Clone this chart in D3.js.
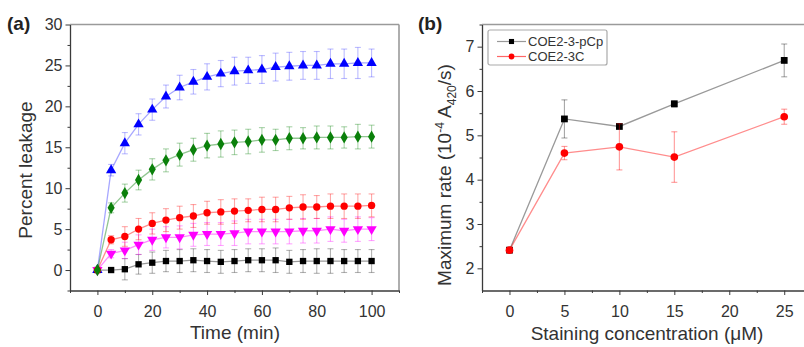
<!DOCTYPE html>
<html>
<head>
<meta charset="utf-8">
<script src="https://cdn.jsdelivr.net/npm/d3@7"></script>
<style>
  html, body { margin: 0; padding: 0; background: #fff; }
  svg { display: block; font-family: "Liberation Sans", Arial, sans-serif; }
</style>
</head>
<body>
<svg id="chart" width="804" height="347"></svg>
<script>
// ---- Panel (a): dye leakage over time ----
const timeMin = [0, 5, 10, 15, 20, 25, 30, 35, 40, 45, 50, 55, 60, 65, 70, 75, 80, 85, 90, 95, 100];

const leakBlue    = [0, 12.2, 15.5, 17.8, 19.6, 21.2, 22.3, 23.0, 23.6, 24.0, 24.3, 24.4, 24.5, 24.8, 24.9, 25.0, 25.0, 25.2, 25.2, 25.3, 25.3];
const leakBlueErr = [0, 0.7, 1.3, 1.3, 1.3, 1.4, 1.5, 1.5, 1.6, 1.6, 1.7, 1.6, 1.7, 1.7, 1.7, 1.7, 1.7, 1.8, 1.8, 1.9, 1.7];

const leakGreen    = [0, 7.6, 9.4, 11.0, 12.3, 13.4, 14.1, 14.7, 15.2, 15.4, 15.6, 15.7, 15.9, 15.9, 16.1, 16.1, 16.2, 16.2, 16.2, 16.3, 16.3];
const leakGreenErr = [0, 0.6, 1.1, 1.2, 1.3, 1.4, 1.4, 1.4, 1.5, 1.6, 1.5, 1.5, 1.5, 1.3, 1.4, 1.3, 1.4, 1.4, 1.3, 1.5, 1.4];

const leakRed    = [0, 3.7, 4.1, 5.0, 5.7, 6.1, 6.4, 6.6, 7.0, 7.1, 7.2, 7.3, 7.4, 7.4, 7.6, 7.7, 7.7, 7.8, 7.8, 7.8, 7.9];
const leakRedErr = [0, 0.5, 1.2, 1.3, 1.3, 1.4, 1.4, 1.4, 1.4, 1.5, 1.5, 1.4, 1.5, 1.5, 1.4, 1.5, 1.4, 1.5, 1.5, 1.5, 1.4];

const leakMagenta    = [0, 2.0, 2.4, 3.1, 3.7, 4.0, 4.0, 4.3, 4.4, 4.4, 4.5, 4.7, 4.7, 4.7, 4.7, 4.8, 4.8, 5.0, 4.8, 5.0, 5.0];
const leakMagentaErr = [0, 0.5, 1.0, 1.2, 1.3, 1.3, 1.4, 1.4, 1.4, 1.4, 1.5, 1.5, 1.5, 1.5, 1.5, 1.5, 1.5, 1.5, 1.4, 1.5, 1.4];

const leakBlack    = [0, 0, 0.1, 0.7, 0.9, 1.1, 1.1, 1.2, 1.1, 1.0, 1.1, 1.2, 1.2, 1.2, 1.0, 1.1, 1.1, 1.1, 1.1, 1.1, 1.1];
const leakBlackErr = [0, 0.2, 1.3, 1.2, 1.3, 1.3, 1.4, 1.4, 1.4, 1.4, 1.4, 1.4, 1.4, 1.5, 1.4, 1.4, 1.5, 1.5, 1.4, 1.4, 1.4];

const ticksA_x = [0, 20, 40, 60, 80, 100];
const ticksA_y = [0, 5, 10, 15, 20, 25, 30];

// ---- Panel (b): maximum rate vs staining concentration ----
const concUM = [0, 5, 10, 15, 25];
const ratePCp    = [2.41, 5.37, 5.20, 5.71, 6.69];
const ratePCpErr = [0.02, 0.43, 0.05, 0.07, 0.37];
const rate3C     = [2.41, 4.60, 4.74, 4.51, 5.42];
const rate3CErr  = [0.02, 0.15, 0.52, 0.57, 0.17];
const legendNames = ["COE2-3-pCp", "COE2-3C"];

const ticksB_x = [0, 5, 10, 15, 20, 25];
const ticksB_y = [2, 3, 4, 5, 6, 7];

const svg = d3.select("#chart");
const axisColor = "#3a3a3a";
const frameColor = "#9a9a9a";
const textColor = "#333";

function markerPath(shape, size) {
  const sym = {
    square: d3.symbolSquare,
    circle: d3.symbolCircle,
    diamond: d3.symbolDiamond,
    triUp: d3.symbolTriangle,
    triDown: d3.symbolTriangle
  }[shape];
  return d3.symbol().type(sym).size(size)();
}

function drawFrame(g, w, h, right) {
  // light top/right border
  g.append("line").attr("x1", 0).attr("x2", w).attr("y1", 0).attr("y2", 0)
    .attr("stroke", frameColor).attr("stroke-width", 1.6);
  if (right) {
    g.append("line").attr("x1", w).attr("x2", w).attr("y1", 0).attr("y2", h)
      .attr("stroke", frameColor).attr("stroke-width", 1.6);
  }
}

function styleAxis(sel) {
  sel.select(".domain").attr("stroke", axisColor).attr("stroke-width", 1.3);
  sel.selectAll(".tick line").attr("stroke", axisColor).attr("stroke-width", 1);
  sel.selectAll(".tick text").attr("fill", textColor).style("font-size", "16px");
}

function drawPanel(cfg) {
  const g = svg.append("g").attr("transform", `translate(${cfg.left},${cfg.top})`);
  const w = cfg.right - cfg.left, h = cfg.bottom - cfg.top;
  const x = d3.scaleLinear().domain(cfg.xDomain).range([0, w]);
  const y = d3.scaleLinear().domain(cfg.yDomain).range([h, 0]);

  drawFrame(g, w, h, cfg.rightFrame);

  // minor ticks
  const gxm = g.append("g").attr("transform", `translate(0,${h})`)
    .call(d3.axisBottom(x).tickValues(cfg.xMinor).tickSize(2.5).tickFormat(""));
  gxm.select(".domain").remove();
  gxm.selectAll(".tick line").attr("stroke", axisColor);
  const gym = g.append("g")
    .call(d3.axisLeft(y).tickValues(cfg.yMinor).tickSize(2.5).tickFormat(""));
  gym.select(".domain").remove();
  gym.selectAll(".tick line").attr("stroke", axisColor);

  // major axes
  const fmt = d3.format("d");
  const gx = g.append("g").attr("transform", `translate(0,${h})`)
    .call(d3.axisBottom(x).tickValues(cfg.xTicks).tickFormat(fmt).tickSize(4.5).tickSizeOuter(0).tickPadding(7));
  styleAxis(gx);
  gx.selectAll(".tick text").attr("dy", "0.95em");
  const gy = g.append("g")
    .call(d3.axisLeft(y).tickValues(cfg.yTicks).tickFormat(fmt).tickSize(4.5).tickSizeOuter(0).tickPadding(3));
  styleAxis(gy);

  // series
  const line = d3.line().x(d => x(d[0])).y(d => y(d[1]));
  cfg.series.forEach(s => {
    const pts = cfg.xs.map((xv, i) => [xv, s.values[i], s.err[i]]);
    g.append("path").datum(pts).attr("d", line)
      .attr("fill", "none").attr("stroke", s.lineColor).attr("stroke-width", 1.3);
    const eb = g.append("g").attr("stroke", s.errColor).attr("stroke-width", 1.1);
    pts.forEach(p => {
      if (p[2] <= 0.05) return;
      const cx = x(p[0]), y1 = y(p[1] + p[2]), y2 = y(p[1] - p[2]);
      eb.append("line").attr("x1", cx).attr("x2", cx).attr("y1", y1).attr("y2", y2);
      eb.append("line").attr("x1", cx - cfg.cap).attr("x2", cx + cfg.cap).attr("y1", y1).attr("y2", y1);
      eb.append("line").attr("x1", cx - cfg.cap).attr("x2", cx + cfg.cap).attr("y1", y2).attr("y2", y2);
    });
    g.append("g").selectAll("path").data(pts).join("path")
      .attr("d", markerPath(s.shape, s.size))
      .attr("transform", d => `translate(${x(d[0])},${y(d[1])})${s.shape === "triDown" ? " rotate(180)" : ""}`)
      .attr("fill", s.color);
  });
  return { g, x, y, w, h };
}

// Panel (a)
drawPanel({
  left: 70, right: 399, top: 24.5, bottom: 290.5,
  xDomain: [-10, 110], yDomain: [-2.5, 30],
  xTicks: ticksA_x, yTicks: ticksA_y,
  xMinor: [-10, 10, 30, 50, 70, 90, 110], yMinor: [-2.5, 2.5, 7.5, 12.5, 17.5, 22.5, 27.5],
  rightFrame: true, cap: 3,
  xs: timeMin,
  series: [
    { values: leakBlue, err: leakBlueErr, color: "#0000ff", lineColor: "rgba(60,60,255,0.45)", errColor: "rgba(60,60,255,0.35)", shape: "triUp", size: 46 },
    { values: leakBlack, err: leakBlackErr, color: "#000000", lineColor: "rgba(0,0,0,0.4)", errColor: "rgba(0,0,0,0.3)", shape: "square", size: 40 },
    { values: leakMagenta, err: leakMagentaErr, color: "#ff00ff", lineColor: "rgba(255,0,255,0.45)", errColor: "rgba(255,0,255,0.35)", shape: "triDown", size: 46 },
    { values: leakRed, err: leakRedErr, color: "#ff0000", lineColor: "rgba(255,0,0,0.45)", errColor: "rgba(255,0,0,0.35)", shape: "circle", size: 42 },
    { values: leakGreen, err: leakGreenErr, color: "#0a800a", lineColor: "rgba(10,128,10,0.45)", errColor: "rgba(10,128,10,0.35)", shape: "diamond", size: 44 }
  ]
});

// Panel (b)
drawPanel({
  left: 482, right: 811.7, top: 24.5, bottom: 290.5,
  xDomain: [-2.5, 27.5], yDomain: [1.5, 7.5],
  xTicks: ticksB_x, yTicks: ticksB_y,
  xMinor: [-2.5, 2.5, 7.5, 12.5, 17.5, 22.5], yMinor: [2.5, 3.5, 4.5, 5.5, 6.5, 7.5],
  rightFrame: false, cap: 3,
  xs: concUM,
  series: [
    { values: ratePCp, err: ratePCpErr, color: "#000000", lineColor: "rgba(0,0,0,0.4)", errColor: "rgba(0,0,0,0.35)", shape: "square", size: 46 },
    { values: rate3C, err: rate3CErr, color: "#ff0000", lineColor: "rgba(255,0,0,0.45)", errColor: "rgba(255,0,0,0.4)", shape: "circle", size: 46 }
  ]
});

// Legend in panel (b)
const leg = svg.append("g").attr("transform", "translate(488,30)");
leg.append("rect").attr("width", 119).attr("height", 35).attr("rx", 2)
  .attr("fill", "#fff").attr("stroke", "#aaa").attr("stroke-width", 1.2);
const legColors = [["#000000", "rgba(0,0,0,0.4)", "square"], ["#ff0000", "rgba(255,0,0,0.6)", "circle"]];
legendNames.forEach((name, i) => {
  const yy = 11.5 + i * 15;
  leg.append("line").attr("x1", 9).attr("x2", 38).attr("y1", yy).attr("y2", yy)
    .attr("stroke", legColors[i][1]).attr("stroke-width", 1.2);
  leg.append("path").attr("d", markerPath(legColors[i][2], 26))
    .attr("transform", `translate(23.5,${yy})`).attr("fill", legColors[i][0]);
  leg.append("text").attr("x", 40).attr("y", yy).attr("dy", "0.36em")
    .attr("fill", textColor).style("font-size", "13px").text(name);
});

// Panel letters
svg.append("text").attr("x", 7).attr("y", 30).attr("font-weight", "bold")
  .style("font-size", "19px").attr("fill", "#222").text("(a)");
svg.append("text").attr("x", 418).attr("y", 30).attr("font-weight", "bold")
  .style("font-size", "19px").attr("fill", "#222").text("(b)");

// Axis titles
svg.append("text").attr("x", 235).attr("y", 339).attr("text-anchor", "middle")
  .style("font-size", "19px").attr("fill", textColor).text("Time (min)");
svg.append("text").attr("transform", "translate(32,170) rotate(-90)").attr("text-anchor", "middle")
  .style("font-size", "19px").attr("fill", textColor).text("Percent leakage");

svg.append("text").attr("x", 647).attr("y", 340).attr("text-anchor", "middle")
  .style("font-size", "19px").attr("fill", textColor).text("Staining concentration (\u03BCM)");

// Rotated y title with superscript exponent and subscript wavelength
const yt = svg.append("text").attr("transform", "translate(451,175) rotate(-90)").attr("text-anchor", "middle")
  .style("font-size", "19px").attr("fill", textColor);
yt.append("tspan").text("Maximum rate (10");
yt.append("tspan").attr("dy", -7).style("font-size", "12px").text("-4");
yt.append("tspan").attr("dy", 7).text(" A");
yt.append("tspan").attr("dy", 5).style("font-size", "12px").text("420");
yt.append("tspan").attr("dy", -5).text("/s)");
</script>
</body>
</html>
